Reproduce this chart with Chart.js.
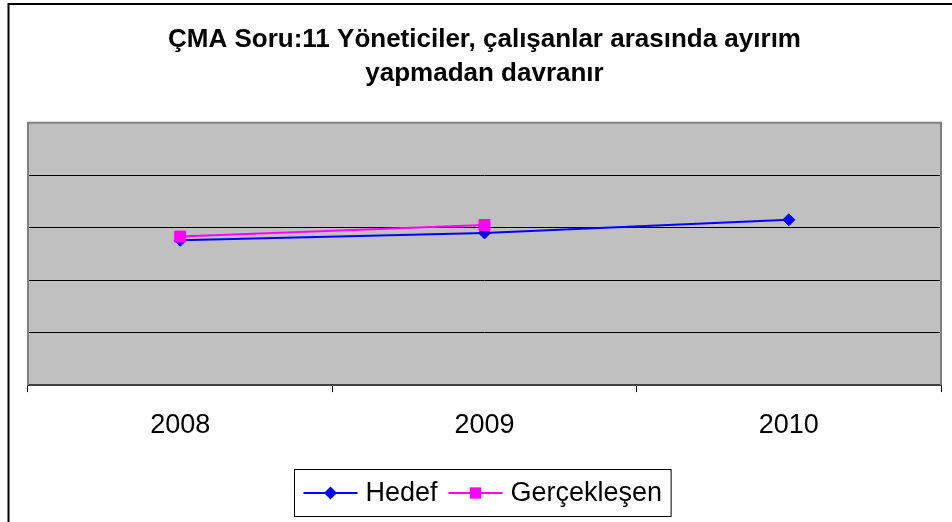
<!DOCTYPE html>
<html>
<head>
<meta charset="utf-8">
<script src="https://cdn.jsdelivr.net/npm/chart.js@4.4.1/dist/chart.umd.min.js"></script>
<style>
  html, body { margin: 0; padding: 0; background: #fff; overflow: hidden; }
  #wrap { width: 952px; height: 522px; overflow: hidden; }
</style>
</head>
<body>
<div id="wrap">
  <canvas id="myChart" width="968" height="522"></canvas>
</div>
<script>
// chart values
let years = ["2008", "2009", "2010"];
let hedef = [2.76, 2.90, 3.15];
let gerceklesen = [2.83, 3.05, null];
let titleLines = ["ÇMA Soru:11 Yöneticiler, çalışanlar arasında ayırım", "yapmadan davranır"];

// gray plot background, frame and outer chart border
let backgroundPlugin = {
  id: "plotBackground",
  beforeDraw(chart) {
    let c = chart.ctx;
    let a = chart.chartArea;
    c.save();
    c.fillStyle = "#ffffff";
    c.fillRect(0, 0, chart.width, chart.height);
    c.strokeStyle = "#000000";
    c.lineWidth = 2;
    c.strokeRect(8.5, 4, 3000, 3000);
    c.fillStyle = "#c0c0c0";
    c.fillRect(a.left, a.top, a.right - a.left, a.bottom - a.top);
    c.restore();
  },
  beforeDatasetsDraw(chart) {
    let c = chart.ctx;
    let a = chart.chartArea;
    c.save();
    c.strokeStyle = "#808080";
    c.lineWidth = 2;
    c.beginPath();
    c.moveTo(a.left, a.bottom);
    c.lineTo(a.left, a.top);
    c.lineTo(a.right, a.top);
    c.lineTo(a.right, a.bottom);
    c.stroke();
    c.restore();
  }
};

// excel style legend: line + marker + label, in a black box
function drawMarker(c, style, x, y, r, color) {
  c.fillStyle = color;
  c.beginPath();
  if (style === "rectRot") {
    c.moveTo(x, y - r);
    c.lineTo(x + r, y);
    c.lineTo(x, y + r);
    c.lineTo(x - r, y);
  } else {
    let s = Math.SQRT1_2 * r;
    c.rect(x - s, y - s, 2 * s, 2 * s);
  }
  c.closePath();
  c.fill();
}

let legendPlugin = {
  id: "boxLegend",
  afterDraw(chart) {
    let c = chart.ctx;
    let a = chart.chartArea;
    let sets = chart.data.datasets;
    c.save();
    c.font = "27px 'Liberation Sans', Arial, sans-serif";
    c.textBaseline = "middle";
    let lineLen = 54, gap = 8, itemGap = 11, pad = 9;
    let total = pad * 2;
    sets.forEach((ds, i) => {
      total += lineLen + gap + c.measureText(ds.label).width;
      if (i < sets.length - 1) total += itemGap;
    });
    let cx = (a.left + a.right) / 2 - 2;
    let left = Math.round(cx - total / 2) + 0.5;
    let top = 469.5, h = 47;
    let midY = top + h / 2;
    c.strokeStyle = "#000000";
    c.lineWidth = 1;
    c.strokeRect(left, top, total, h);
    let x = left + pad;
    sets.forEach((ds) => {
      c.strokeStyle = ds.borderColor;
      c.lineWidth = 2;
      c.beginPath();
      c.moveTo(x, midY);
      c.lineTo(x + lineLen, midY);
      c.stroke();
      drawMarker(c, ds.pointStyle, x + lineLen / 2, midY, ds.pointStyle === "rectRot" ? 6.5 : 8, ds.borderColor);
      x += lineLen + gap;
      c.fillStyle = "#000000";
      c.fillText(ds.label, x, midY + 1);
      x += c.measureText(ds.label).width + itemGap;
    });
    c.restore();
  }
};

let ctx = document.getElementById("myChart").getContext("2d");
let data = {
  labels: years,
  datasets: [
    {
      label: "Hedef",
      data: hedef,
      borderColor: "#0000ff",
      backgroundColor: "#0000ff",
      borderWidth: 2,
      pointStyle: "rectRot",
      pointRadius: 6,
      pointBorderWidth: 1,
      tension: 0,
      order: 1,
    },
    {
      label: "Gerçekleşen",
      data: gerceklesen,
      borderColor: "#ff00ff",
      backgroundColor: "#ff00ff",
      borderWidth: 2,
      pointStyle: "rect",
      pointRadius: 7.8,
      pointBorderWidth: 1,
      tension: 0,
      order: 0,
    },
  ],
};

let options = {
  responsive: false,
  animation: false,
  devicePixelRatio: 1,
  layout: {
    padding: { left: 28, right: 27, top: 0, bottom: 63.5 },
  },
  plugins: {
    legend: { display: false },
    tooltip: { enabled: false },
    title: {
      display: true,
      text: titleLines,
      color: "#000000",
      font: { family: "'Liberation Sans', Arial, sans-serif", size: 26, weight: "bold", lineHeight: 34 / 26 },
      padding: { top: 23, bottom: 31.7 },
    },
  },
  scales: {
    x: {
      offset: true,
      grid: {
        offset: true,
        drawOnChartArea: false,
        drawTicks: true,
        tickLength: 7,
        tickColor: "#000000",
        tickWidth: 1,
      },
      border: { display: true, color: "#404040", width: 2 },
      ticks: {
        color: "#000000",
        padding: 17,
        font: { family: "'Liberation Sans', Arial, sans-serif", size: 27 },
      },
    },
    y: {
      min: 0,
      max: 5,
      ticks: { display: false, stepSize: 1 },
      border: { display: false },
      grid: {
        drawTicks: false,
        lineWidth: 1,
        color: (context) => {
          let v = context.tick ? context.tick.value : null;
          return v === 0 || v === 5 ? "rgba(0,0,0,0)" : "#000000";
        },
      },
    },
  },
};

let myChart = new Chart(ctx, {
  type: "line",
  data: data,
  options: options,
  plugins: [backgroundPlugin, legendPlugin],
});
</script>
</body>
</html>
